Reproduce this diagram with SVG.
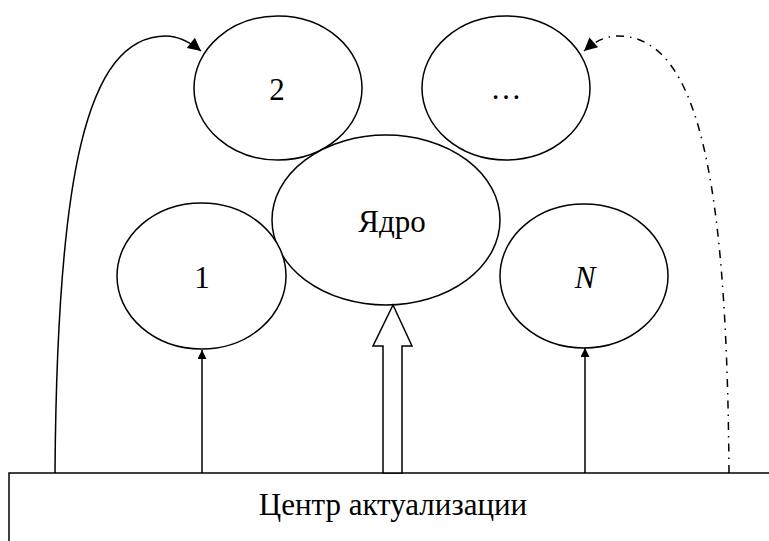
<svg xmlns="http://www.w3.org/2000/svg" width="769" height="541" viewBox="0 0 769 541">
<style>
.n{fill:#fff;stroke:#000;stroke-width:1.5}
.t{font-family:"Liberation Serif","Times New Roman","DejaVu Serif",serif;font-size:31px;fill:#000;text-anchor:middle}
.c{fill:none;stroke:#000;stroke-width:1.5}
.h{fill:#fff;stroke:#000;stroke-width:1.5}
</style>
<defs>
<marker id="ah" viewBox="0 0 10 10" refX="10" refY="5" markerWidth="10" markerHeight="9" markerUnits="userSpaceOnUse" orient="auto">
<path d="M0,0 L10,5 L0,10 z" fill="#000"/>
</marker>
<marker id="ah2" viewBox="0 0 10 10" refX="10" refY="5" markerWidth="16" markerHeight="13" markerUnits="userSpaceOnUse" orient="auto">
<path d="M0,0 L10,5 L0,10 z" fill="#000"/>
</marker>
</defs>
<rect width="769" height="541" fill="#fff"/>
<g id="center">
<rect class="n" x="9" y="473" width="780" height="90"/>
<text class="t" x="393" y="515">Центр актуализации</text>
</g>
<g id="node2">
<ellipse class="n" cx="278" cy="88" rx="84" ry="72"/>
<text class="t" x="277" y="100">2</text>
</g>
<g id="nodeDots">
<ellipse class="n" cx="506" cy="88" rx="84" ry="72"/>
<text class="t" x="506" y="99">…</text>
</g>
<g id="core">
<ellipse class="n" cx="386" cy="220" rx="114" ry="85"/>
<text class="t" x="392" y="232">Ядро</text>
</g>
<g id="node1">
<ellipse class="n" cx="201.5" cy="276" rx="84.5" ry="73"/>
<text class="t" x="202" y="288">1</text>
</g>
<g id="nodeN">
<ellipse class="n" cx="584" cy="276" rx="84" ry="72"/>
<text class="t" x="585" y="288" font-style="italic">N</text>
</g>
<g id="connectors">
<line class="c" x1="202" y1="473" x2="202" y2="350" marker-end="url(#ah)"/>
<line class="c" x1="585" y1="473" x2="585" y2="348" marker-end="url(#ah)"/>
<polygon class="h" points="393,305 412,346 402,346 402,473 383,473 383,346 373,346"/>
<path class="c" d="M55,473 C57,180 85,36 166,36 C180,36 191,43 201,51" marker-end="url(#ah2)"/>
<path class="c" d="M729,473 C727,180 699,36 618,36 C604,36 593,43 584,51" stroke-dasharray="8 6 1.5 6" marker-end="url(#ah2)"/>
</g>
</svg>
